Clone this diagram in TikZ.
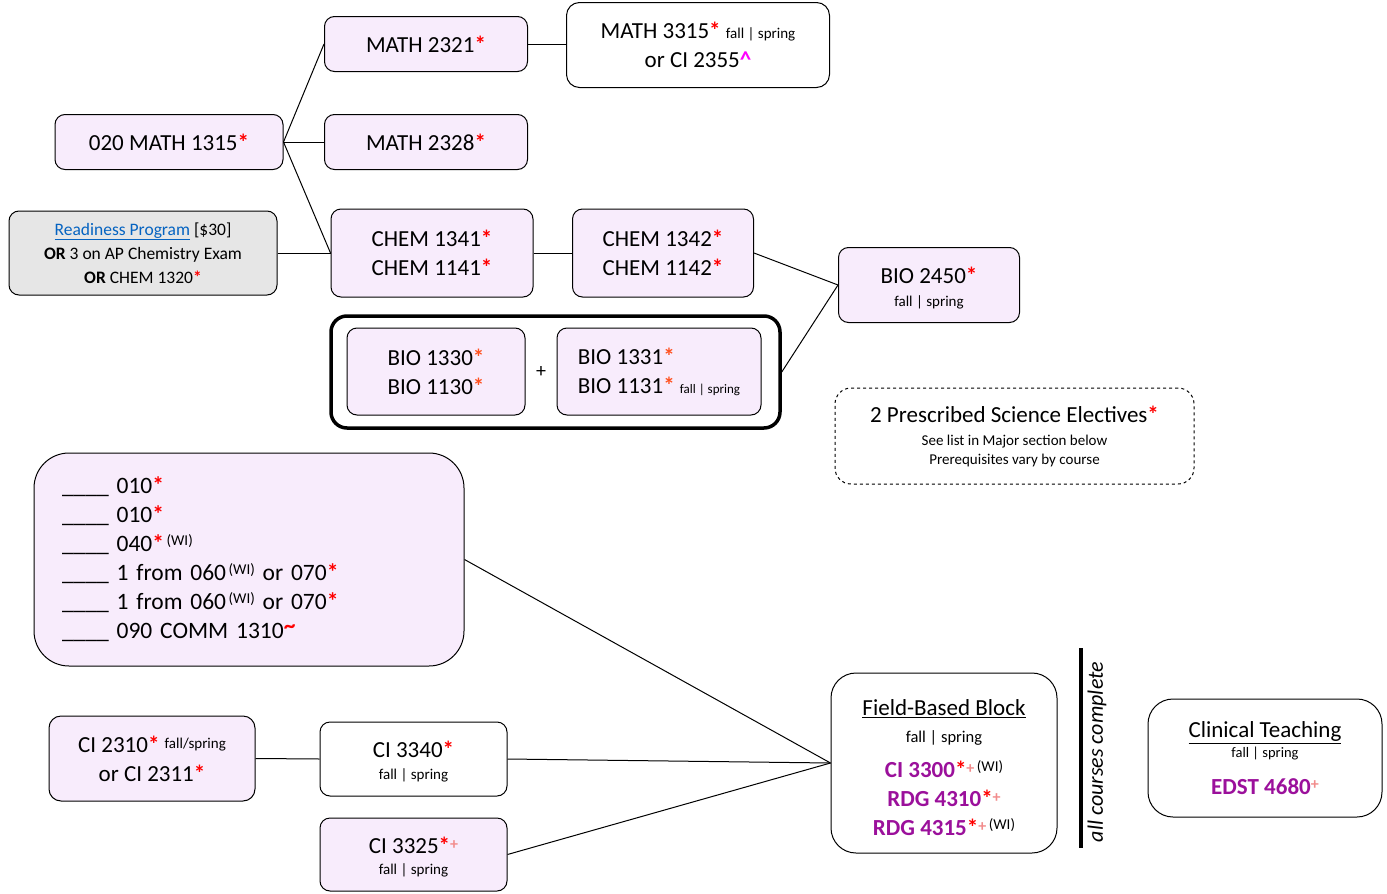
\documentclass[tikz,border=0pt]{standalone}
\usepackage{fontspec}
\setmainfont{Carlito}
\usetikzlibrary{positioning}

\definecolor{lav}{RGB}{248,236,252}
\definecolor{greybox}{RGB}{230,230,230}
\definecolor{coursepurple}{RGB}{155,16,155}
\definecolor{bioorange}{RGB}{255,80,30}
\definecolor{pluspink}{RGB}{242,140,140}
\definecolor{caretpink}{RGB}{255,0,255}
\definecolor{linkblue}{RGB}{5,99,193}

\newcommand{\mainsz}{\fontsize{23}{29}\selectfont}
\newcommand{\smallsz}{\fontsize{15}{18}\selectfont}
\newcommand{\rstar}{\textcolor{red}{\textbf{*}}}
\newcommand{\ostar}{\textcolor{bioorange}{\textbf{*}}}
\newcommand{\pplus}{{\fontsize{16}{16}\selectfont\raisebox{0.6ex}{\textcolor{pluspink}{\textbf{+}}}}}
\newcommand{\wi}{{\fontsize{15}{15}\selectfont\raisebox{0.9ex}{\,(WI)}}}
\newcommand{\fs}{{\smallsz fall | spring}}

\begin{document}
\begin{tikzpicture}[x=1pt,y=-1pt,
    course/.style={draw, rounded corners=10pt, fill=lav, line width=1pt,
                   font=\mainsz, align=center, inner sep=0pt},
    plain/.style={course, fill=white},
    link/.style={line width=1pt}]
    \useasboundingbox (0,0) rectangle (1387,894);

    % math row
    \node[course, minimum width=228pt, minimum height=55pt] (m1315) at (169,142) {020 MATH 1315\rstar};
    \node[course, minimum width=203pt, minimum height=55pt] (m2321) at (426,44) {MATH 2321\rstar};
    \node[course, minimum width=203pt, minimum height=55pt] (m2328) at (426,142) {MATH 2328\rstar};
    \node[plain, rounded corners=13pt, minimum width=263pt, minimum height=85pt] (m3315) at (698,45)
        {MATH 3315\rstar\ \fs\\ or CI 2355\textcolor{caretpink}{\textbf{\textasciicircum}}};

    % chemistry and biology
    \node[course, fill=greybox, minimum width=268pt, minimum height=84pt, font=\fontsize{17.5}{24}\selectfont] (ready) at (143,253)
        {\textcolor{linkblue}{\underline{Readiness Program}} [\$30]\\
         \textbf{OR} 3 on AP Chemistry Exam\\
         \textbf{OR} CHEM 1320\rstar};
    \node[course, minimum width=202pt, minimum height=88pt] (c1341) at (432,253) {CHEM 1341\rstar\\ CHEM 1141\rstar};
    \node[course, minimum width=181pt, minimum height=88pt] (c1342) at (663,253) {CHEM 1342\rstar\\ CHEM 1142\rstar};
    \node[course, minimum width=181pt, minimum height=75pt] (b2450) at (929,285) {\rule{0pt}{22pt}BIO 2450\rstar\\[-6pt] \fs};

    \node[draw, rounded corners=16pt, line width=3.5pt, minimum width=449pt, minimum height=112pt] (biopair) at (555.5,372) {};
    \node[course, minimum width=178pt, minimum height=87pt] (b1330) at (436,371.5) {BIO 1330\ostar\\ BIO 1130\ostar};
    \node[font=\fontsize{20}{20}\selectfont] (plus) at (541,372) {+};
    \node[course, align=left, minimum width=204pt, minimum height=87pt] (b1331) at (659,371.5)
        {BIO 1331\ostar\\ BIO 1131\ostar\ {\fontsize{13}{13}\selectfont fall | spring}};

    \node[plain, dashed, rounded corners=16pt, minimum width=359pt, minimum height=96pt] (elect) at (1014.5,436)
        {2 Prescribed Science Electives\rstar\\[-6pt]
         {\smallsz See list in Major section below}\\[-10pt]
         {\smallsz Prerequisites vary by course}};

    % core courses
    \node[course, rounded corners=35pt, minimum width=430pt, minimum height=213pt,
          text width=374pt, align=left, font=\fontsize{23.5}{29}\selectfont] (core) at (249,559.5)
        {\_\_\_\_ 010\rstar\\
         \_\_\_\_ 010\rstar\\
         \_\_\_\_ 040\rstar\wi\\
         \_\_\_\_ 1 from 060\wi\ or 070\rstar\\
         \_\_\_\_ 1 from 060\wi\ or 070\rstar\\
         \_\_\_\_ 090 COMM 1310\textcolor{red}{\raisebox{0.5ex}{\textbf{\textasciitilde}}}};

    \node[course, rounded corners=12pt, minimum width=206pt, minimum height=85pt] (ci2310) at (152,758.5)
        {CI 2310\rstar\ {\smallsz\raisebox{0.5ex}{fall/spring}}\\ or CI 2311\rstar};
    \node[plain, minimum width=187pt, minimum height=74pt] (ci3340) at (413.5,759) {\rule{0pt}{21pt}CI 3340\rstar\\[-7pt] \fs};
    \node[course, minimum width=187pt, minimum height=73pt] (ci3325) at (413.5,854.5) {\rule{0pt}{22pt}CI 3325\rstar\pplus\\[-8pt] \fs};

    % field and clinical
    \node[plain, rounded corners=25pt, minimum width=226pt, minimum height=180pt] (field) at (944,763)
        {\rule{0pt}{26pt}\underline{Field-Based Block}\\[-2pt]
         {\fontsize{16.5}{20}\selectfont fall | spring}\\[6pt]
         \textcolor{coursepurple}{\textbf{CI 3300}}\rstar\pplus\wi\\
         \textcolor{coursepurple}{\textbf{RDG 4310}}\rstar\pplus\\
         \textcolor{coursepurple}{\textbf{RDG 4315}}\rstar\pplus\wi};
    \coordinate (bartop) at (1081,648);
    \coordinate (barbot) at (1081,848);
    \draw[line width=4pt] (bartop) -- (barbot);
    \node[rotate=90, font=\fontsize{22}{22}\selectfont\itshape] (done) at (1097,752) {all courses complete};
    \node[plain, rounded corners=25pt, minimum width=234pt, minimum height=118pt] (clin) at (1265,758)
        {\underline{Clinical Teaching}\\[-9pt]
         {\fontsize{14.5}{17}\selectfont fall | spring}\\[8pt]
         \textcolor{coursepurple}{\textbf{EDST 4680}}\pplus};

    % connectors
    \draw[link] (m1315.east) -- (m2321.west);
    \draw[link] (m1315.east) -- (m2328.west);
    \draw[link] (m1315.east) -- (c1341.west);
    \draw[link] (m2321.east) -- (m3315.west |- m2321.east);
    \draw[link] (ready.east) -- (c1341.west);
    \draw[link] (c1341.east) -- (c1342.west);
    \draw[link] (c1342.east) -- (b2450.west);
    \draw[link] (biopair.east) -- (b2450.west);
    \draw[link] (core.east) -- (field.west);
    \draw[link] (ci2310.east) -- (ci3340.west);
    \draw[link] (ci3340.east) -- (field.west);
    \draw[link] (ci3325.east) -- (field.west);
\end{tikzpicture}
\end{document}
